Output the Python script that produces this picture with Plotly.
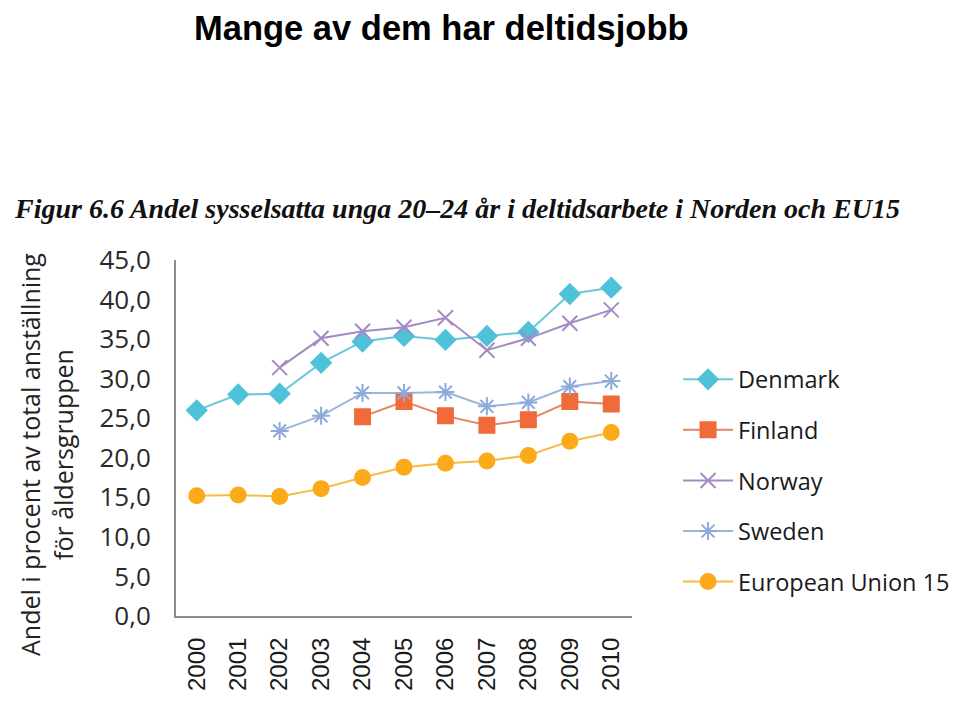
import plotly.graph_objects as go

years = ["2000", "2001", "2002", "2003", "2004", "2005", "2006", "2007", "2008", "2009", "2010"]
denmark = [26.0, 28.0, 28.1, 32.0, 34.7, 35.4, 34.9, 35.4, 35.9, 40.7, 41.5]
finland = [None, None, None, None, 25.2, 27.1, 25.3, 24.1, 24.8, 27.1, 26.8]
norway = [None, None, 31.4, 35.1, 36.0, 36.5, 37.7, 33.6, 35.1, 37.0, 38.7]
sweden = [None, None, 23.4, 25.3, 28.2, 28.2, 28.3, 26.5, 27.0, 29.0, 29.7]
eu15 = [15.2, 15.3, 15.1, 16.1, 17.5, 18.8, 19.3, 19.6, 20.3, 22.1, 23.2]
y_ticks = [0, 5, 10, 15, 20, 25, 30, 35, 40, 45]
y_tick_labels = ["0,0", "5,0", "10,0", "15,0", "20,0", "25,0", "30,0", "35,0", "40,0", "45,0"]

series = [
    ("Denmark", denmark, "#4EC2D8", "#6CC6DA", "diamond", 15),
    ("Finland", finland, "#F06A3A", "#E58367", "square", 15),
    ("Norway", norway, "#A48BC6", "#A48BC6", "x-thin-open", 15),
    ("Sweden", sweden, "#8EAADB", "#9DB5DD", "asterisk-open", 15),
    ("European Union 15", eu15, "#FBAA19", "#F5BB45", "circle", 15),
]

fig = go.Figure()
for i, (name, vals, mcol, lcol, sym, size) in enumerate(series):
    fig.add_trace(go.Scatter(
        x=years, y=vals, name=name, mode="lines+markers",
        line=dict(color=lcol, width=2),
        marker=dict(symbol=sym, size=size, color=mcol,
                    line=dict(color=mcol, width=2)),
        connectgaps=False, legendgroup=str(i),
    ))

fig.update_layout(
    width=959, height=702,
    paper_bgcolor="white", plot_bgcolor="white",
    margin=dict(l=168, r=335, t=252, b=94),
    font=dict(family="Open Sans", color="#222222"),
    showlegend=True,
    legend=dict(
        x=1.101, y=0.726, xanchor="left", yanchor="top",
        font=dict(family="Open Sans", size=23.5, color="#1a1a1a"),
        tracegroupgap=17, itemwidth=50, bgcolor="rgba(0,0,0,0)",
    ),
    xaxis=dict(
        type="category", range=[-0.5, 10.5],
        showline=True, linecolor="#8c8c8c", linewidth=2,
        showgrid=False, zeroline=False, ticks="",
        tickangle=-90, ticklabelstandoff=10,
        tickfont=dict(family="Liberation Sans", size=24, color="#1a1a1a"),
    ),
    yaxis=dict(
        range=[0, 45], tickvals=y_ticks, ticktext=y_tick_labels,
        showline=True, linecolor="#8c8c8c", linewidth=2,
        showgrid=False, zeroline=False, ticks="",
        ticklabelstandoff=18,
        tickfont=dict(family="Open Sans", size=26, color="#2a2a2a"),
    ),
    annotations=[
        dict(text="<b>Mange av dem har deltidsjobb</b>", xref="paper", yref="paper",
             x=(441 - 176) / 456, y=1 + (252 - 20) / 356, xanchor="center", yanchor="middle",
             showarrow=False, font=dict(family="Liberation Sans", size=34.5, color="black")),
        dict(text="<b><i>Figur 6.6 Andel sysselsatta unga 20–24 år i deltidsarbete i Norden och EU15</i></b>",
             xref="paper", yref="paper",
             x=(12 - 176) / 456, y=(616 - 208) / 356, xanchor="left", yanchor="middle",
             showarrow=False, font=dict(family="Liberation Serif", size=28, color="#111111")),
        dict(text="Andel i procent av total anställning<br>för åldersgruppen",
             xref="paper", yref="paper",
             x=(46 - 176) / 456, y=(616 - 455) / 356, xanchor="center", yanchor="middle",
             textangle=-90, showarrow=False,
             font=dict(family="Open Sans", size=25, color="#222222")),
    ],
)

fig.write_html("out.html")
